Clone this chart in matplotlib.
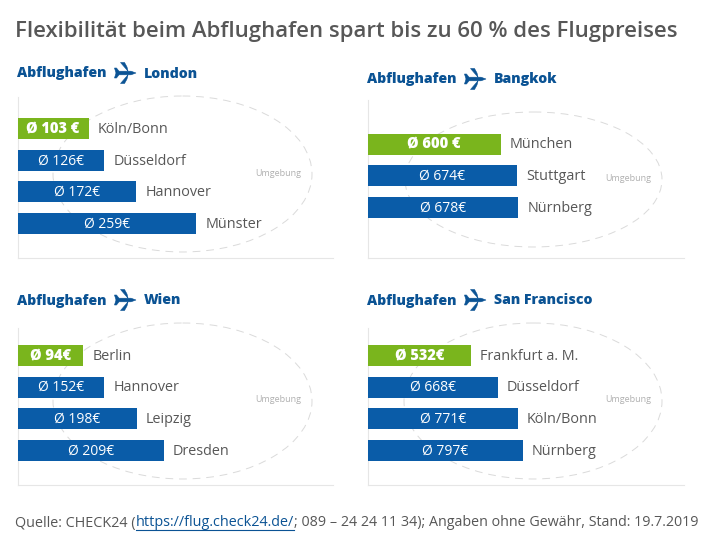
import matplotlib
matplotlib.use('Agg')
import matplotlib.pyplot as plt
from matplotlib.patches import Ellipse, PathPatch
from matplotlib.path import Path

plt.rcParams['font.family'] = ['Open Sans', 'DejaVu Sans']

title = 'Flexibilität beim Abflughafen spart bis zu 60 % des Flugpreises'

london_cities = ['Köln/Bonn', 'Düsseldorf', 'Hannover', 'Münster']
london_values = [103, 126, 172, 259]
london_labels = ['Ø 103 €', 'Ø 126€', 'Ø 172€', 'Ø 259€']

bangkok_cities = ['München', 'Stuttgart', 'Nürnberg']
bangkok_values = [600, 674, 678]
bangkok_labels = ['Ø 600 €', 'Ø 674€', 'Ø 678€']

wien_cities = ['Berlin', 'Hannover', 'Leipzig', 'Dresden']
# the Wien bars in the picture are not drawn to scale, these are the drawn lengths
wien_values = [94, 124, 170, 209]
wien_labels = ['Ø 94€', 'Ø 152€', 'Ø 198€', 'Ø 209€']

sf_cities = ['Frankfurt a. M.', 'Düsseldorf', 'Köln/Bonn', 'Nürnberg']
sf_values = [532, 668, 771, 797]
sf_labels = ['Ø 532€', 'Ø 668€', 'Ø 771€', 'Ø 797€']

BLUE = '#0a5ca8'
GREEN = '#7ab51d'
HEAD = '#0b5394'
GREY = '#575757'
W, H = 710, 541

fig = plt.figure(figsize=(W / 100, H / 100), dpi=100)

# overlay in pixel coordinates for headings, plane icons and the source line
over = fig.add_axes([0, 0, 1, 1], zorder=0)
over.set_xlim(0, W)
over.set_ylim(H, 0)
over.axis('off')


def plane(cx, cy):
    pts = [(11, 0), (6, -1.8), (3, -1.8), (-4.5, -10.5), (-0.5, -10.5), (2, -6), (3, -1.8),
           (-6, -1.8), (-8.5, -5), (-10.5, -5), (-9, 0), (-10.5, 5), (-8.5, 5),
           (-6, 1.8), (3, 1.8), (2, 6), (-0.5, 10.5), (-4.5, 10.5), (3, 1.8), (6, 1.8), (11, 0)]
    verts = [(cx + a, cy + b) for a, b in pts]
    codes = [Path.MOVETO] + [Path.LINETO] * (len(verts) - 2) + [Path.CLOSEPOLY]
    over.add_patch(PathPatch(Path(verts, codes), fc=HEAD, ec=HEAD, lw=0.4))


def panel(dest, cities, values, labels, left, right, top, bottom, first, step, scale, ell, head_y):
    ax = fig.add_axes([left / W, 1 - bottom / H, (right - left) / W, (bottom - top) / H])
    ax.set_xlim(0, (right - left) / scale)
    ax.set_ylim((bottom - first) / step, (top - first) / step)
    for s in ['top', 'right']:
        ax.spines[s].set_visible(False)
    for s in ['left', 'bottom']:
        ax.spines[s].set_color('#e6e6e6')
        ax.spines[s].set_linewidth(0.8)
    ax.set_xticks([])
    ax.set_yticks([])
    ax.patch.set_alpha(0)

    over.add_patch(Ellipse(((ell[0] + ell[1]) / 2, (ell[2] + ell[3]) / 2), ell[1] - ell[0], ell[3] - ell[2],
                           fill=False, ec='#dadada', lw=0.7, ls=(0, (8, 6)), zorder=0))

    ypos = list(range(len(values)))
    colors = [GREEN] + [BLUE] * (len(values) - 1)
    ax.barh(ypos, values, height=21 / step, color=colors, zorder=3)
    for i in ypos:
        first_bar = i == 0
        ax.annotate(labels[i], (values[i] / 2, i), xytext=(0, -0.5), textcoords='offset points',
                    color='white', ha='center', va='center', fontsize=10.5 if first_bar else 10,
                    fontweight='extra bold' if first_bar else 'normal', zorder=4)
        ax.annotate(cities[i], (values[i], i), xytext=(6.6, -0.7), textcoords='offset points',
                    color=GREY, ha='left', va='center', fontsize=10.4)

    over.text(left - 0.5, head_y + 0.5, 'Abflughafen', color=HEAD, fontsize=10.2, fontweight='extra bold', va='center')
    plane(left + 107.5, head_y)
    over.text(left + 126.5, head_y + 0.5, dest, color=HEAD, fontsize=10.2, fontweight='extra bold', va='center')
    over.text(ell[1] - 11, (ell[2] + ell[3]) / 2 - 1, 'Umgebung', color='#b0b0b0', fontsize=6.5,
              ha='right', va='center')


panel('London', london_cities, london_values, london_labels,
      17.5, 333, 97, 258, 128.5, 31.7, 0.69, (53, 312, 96, 252), 73)
panel('Bangkok', bangkok_cities, bangkok_values, bangkok_labels,
      367.5, 684, 100, 258, 144, 31.7, 0.222, (405, 662, 112, 247), 79)
panel('Wien', wien_cities, wien_values, wien_labels,
      17.5, 333, 328, 485, 355.3, 31.7, 0.70, (53, 312, 323, 479), 300)
panel('San Francisco', sf_cities, sf_values, sf_labels,
      367.5, 684, 328, 485, 355.3, 31.7, 0.195, (404, 662, 323, 479), 300)

fig.text(15 / W, 1 - 31 / H, title, color=GREY, fontsize=15.9, fontweight='semibold', va='center')

# source line, three pieces because the link is blue and underlined
fig.canvas.draw()
rend = fig.canvas.get_renderer()
y_src = 1 - 523 / H
x = 15
t1 = fig.text(x / W, y_src, 'Quelle: CHECK24 (', color=GREY, fontsize=10.35, va='center')
x = t1.get_window_extent(rend).x1
t2 = fig.text(x / W, y_src, 'https://flug.check24.de/', color=HEAD, fontsize=10.35, va='center')
box = t2.get_window_extent(rend)
over.plot([box.x0, box.x1], [530, 530], color=HEAD, lw=0.8)
fig.text(box.x1 / W, y_src, '; 089 – 24 24 11 34); Angaben ohne Gewähr, Stand: 19.7.2019',
         color=GREY, fontsize=10.3, va='center')

fig.savefig('out.png', dpi=100)
